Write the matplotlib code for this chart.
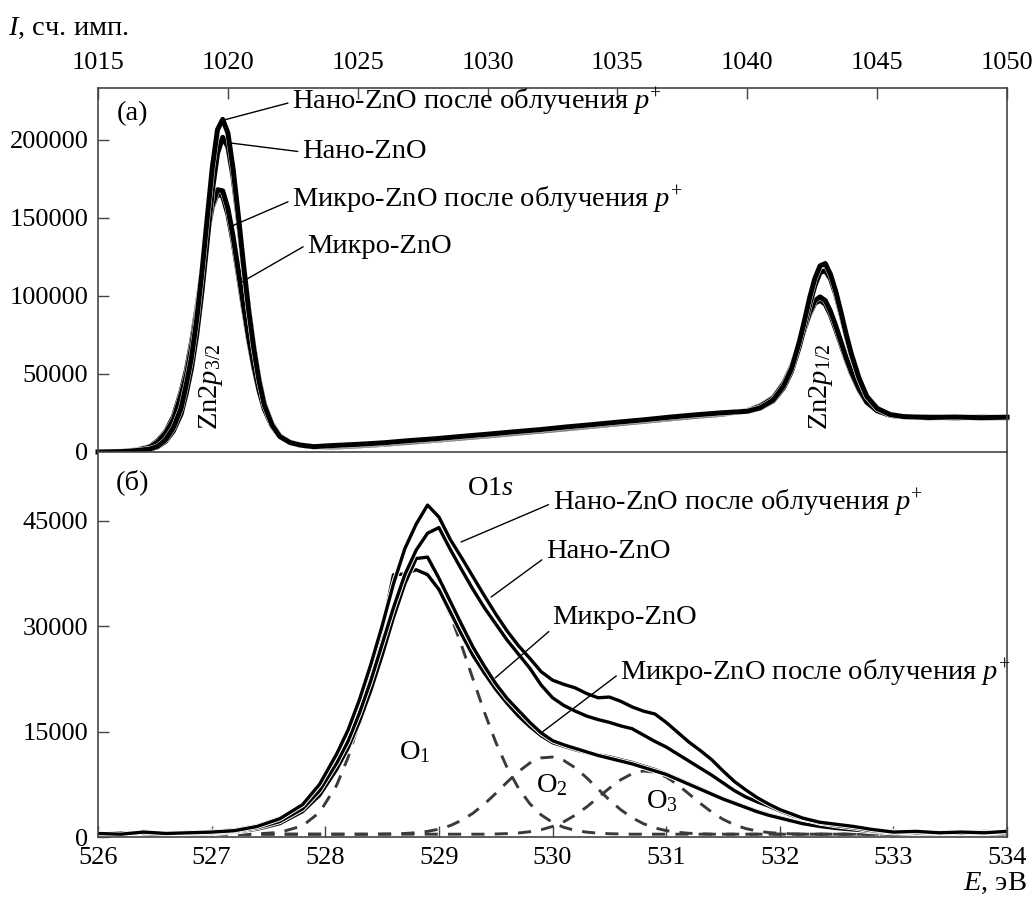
import matplotlib
matplotlib.use("Agg")
import matplotlib.pyplot as plt
import matplotlib.patheffects as pe

plt.rcParams['font.family'] = ['Liberation Serif', 'DejaVu Serif']
plt.rcParams['mathtext.fontset'] = 'custom'
plt.rcParams['mathtext.rm'] = 'Liberation Serif'
plt.rcParams['mathtext.it'] = 'Liberation Serif:italic'

# ---- (a) Zn2p region, energy in eV, counts ----
e_top = [1015, 1015.5, 1016, 1016.5, 1017, 1017.3, 1017.6, 1017.9, 1018.2, 1018.4,
         1018.6, 1018.8, 1019.0, 1019.2, 1019.4, 1019.6, 1019.8, 1020.0, 1020.2, 1020.4,
         1020.6, 1020.8, 1021.0, 1021.2, 1021.4, 1021.7, 1022.0, 1022.4, 1022.8, 1023.3,
         1024, 1025, 1026, 1027, 1028, 1029, 1030, 1031, 1032, 1033,
         1034, 1035, 1036, 1037, 1038, 1039, 1040, 1040.5, 1041.0, 1041.4,
         1041.7, 1042.0, 1042.2, 1042.4, 1042.6, 1042.8, 1043.0, 1043.2, 1043.4, 1043.6,
         1043.8, 1044.0, 1044.3, 1044.6, 1045.0, 1045.5, 1046, 1047, 1048, 1049, 1050]

nano_irr_top = [0, 150, 300, 950, 1900, 3650, 7800, 15500, 28100, 43300,
                60700, 84900, 115100, 149200, 182300, 206600, 213200, 204500, 181500, 151700,
                120200, 91000, 66100, 45550, 30200, 17250, 9900, 6000, 4400, 3400,
                4100, 4900, 5900, 7300, 8500, 10000, 11400, 12900, 14300, 16000,
                17500, 19100, 20600, 22300, 23800, 25100, 26100, 28300, 33300, 42500,
                53400, 70500, 84200, 98900, 111200, 119300, 120800, 113900, 103200, 89900,
                75800, 63100, 47300, 35600, 27900, 23950, 22700, 22100, 22400, 22000, 22300]

nano_top = [100, 200, 400, 900, 1800, 3300, 6800, 13500, 24400, 37700,
            53700, 75200, 102700, 134400, 167300, 191400, 201700, 195600, 176100, 149000,
            119300, 91200, 66900, 46550, 31000, 17850, 10100, 6000, 4300, 3400,
            3700, 4700, 5500, 7000, 8200, 9700, 11000, 12600, 14000, 15600,
            17100, 18700, 20400, 21800, 23600, 24800, 26100, 28150, 32750, 41200,
            51600, 67400, 80300, 94400, 106600, 115100, 116200, 111000, 101200, 88500,
            75000, 62400, 47100, 35600, 27900, 24000, 22700, 22400, 22000, 22300, 22100]

micro_irr_top = [0, 200, 400, 1200, 3150, 6450, 12250, 20600, 36800, 49000,
                 67300, 88800, 113400, 139000, 157900, 168100, 167400, 156100, 138200, 116400,
                 93900, 72800, 54600, 39350, 27500, 16550, 9900, 6000, 4400, 3400,
                 3400, 4200, 5300, 6400, 7900, 9200, 10600, 12100, 13500, 15100,
                 16700, 18200, 19900, 21500, 23000, 24400, 26400, 29260, 34460, 43900,
                 54000, 68300, 79100, 89200, 97000, 99400, 97100, 90200, 81000, 70900,
                 60600, 51500, 40400, 31900, 26400, 23500, 22600, 21900, 22300, 21800, 22000]

micro_top = [0, 100, 300, 1400, 3450, 7300, 13000, 22600, 38800, 52400,
             70300, 91500, 115200, 138900, 157000, 165600, 163800, 152200, 134600, 113600,
             91900, 71500, 54000, 39150, 27700, 16850, 10300, 6100, 4550, 3500,
             3100, 3900, 4900, 6200, 7500, 8900, 10300, 11800, 13300, 14800,
             16400, 18000, 19600, 21200, 22800, 24100, 26500, 29700, 34900, 44300,
             54900, 68900, 79200, 88400, 95300, 97200, 94700, 87900, 78700, 69100,
             59400, 50600, 39700, 31700, 26300, 23500, 22600, 22200, 21800, 22200, 21900]

# ---- (б) O1s region ----
e_o1s = [526.0, 526.2, 526.4, 526.6, 526.8, 527.0, 527.2, 527.4, 527.6, 527.8,
         527.95, 528.1, 528.2, 528.3, 528.4, 528.5, 528.6, 528.7, 528.8, 528.9,
         529.0, 529.1, 529.2, 529.3, 529.4, 529.5, 529.6, 529.7, 529.8, 529.9,
         530.0, 530.1, 530.2, 530.3, 530.4, 530.5, 530.6, 530.7, 530.8, 530.9,
         531.0, 531.1, 531.2, 531.3, 531.4, 531.5, 531.6, 531.7, 531.8, 531.9,
         532.0, 532.1, 532.2, 532.35, 532.5, 532.65, 532.8, 533.0, 533.2, 533.4,
         533.6, 533.8, 534.0]

nano_irr_o1s = [500, 400, 700, 500, 600, 700, 900, 1500, 2600, 4600,
                7500, 11800, 15200, 19500, 24500, 30000, 36000, 41000, 44500, 47200,
                45500, 42300, 39700, 37000, 34300, 31700, 29300, 27200, 25400, 23500,
                22300, 21700, 21200, 20400, 19800, 19900, 19300, 18500, 17900, 17500,
                16300, 14900, 13500, 12300, 11000, 9400, 7900, 6700, 5600, 4700,
                3900, 3300, 2700, 2100, 1800, 1500, 1100, 700, 800, 600,
                700, 600, 800]

nano_o1s = [400, 600, 500, 400, 700, 600, 800, 1300, 2200, 4000,
            6600, 10500, 13600, 17600, 22200, 27400, 32600, 37300, 40800, 43200,
            44000, 40900, 38000, 35200, 32600, 30300, 28000, 26000, 24000, 21600,
            19800, 18700, 17900, 17200, 16700, 16300, 15800, 15400, 14500, 13600,
            12800, 11800, 10800, 9800, 8800, 7700, 6600, 5700, 5000, 4400,
            3700, 3100, 2600, 2000, 1600, 1300, 900, 800, 600, 700,
            500, 700, 600]

micro_o1s = [300, 500, 400, 600, 500, 500, 700, 1100, 1900, 3600,
             5900, 9600, 12600, 16400, 20800, 25800, 31200, 36000, 39600, 39800,
             36800, 33500, 30200, 27000, 24300, 21800, 19700, 18000, 16300, 14800,
             13700, 13100, 12600, 12100, 11600, 11200, 10800, 10400, 9900, 9400,
             8900, 8200, 7500, 6800, 6100, 5400, 4800, 4200, 3600, 3100,
             2700, 2300, 1900, 1500, 1200, 1000, 800, 600, 700, 500,
             600, 500, 700]

micro_irr_o1s = [600, 300, 800, 400, 600, 800, 1000, 1600, 2700, 4200,
                 6900, 11000, 14300, 18500, 23500, 29500, 37300, 37400, 38000, 37300,
                 35200, 32000, 28800, 25800, 23300, 21000, 19000, 17200, 15700, 14400,
                 13400, 12900, 12400, 12000, 11700, 11400, 11000, 10600, 10100, 9600,
                 9000, 8300, 7600, 6900, 6200, 5500, 4900, 4300, 3700, 3200,
                 2800, 2400, 2000, 1600, 1300, 1000, 900, 700, 500, 700,
                 600, 800, 600]

comp_o1 = [400, 400, 400, 400, 400, 400, 400, 440, 660, 1590,
           3510, 7360, 11300, 16360, 22200, 28000, 32800, 36300, 38000, 37500,
           35150, 31600, 27200, 22450, 17760, 13480, 9860, 6940, 4730, 3140,
           2070, 1365, 940, 690, 550, 470, 430] + [400] * 26

comp_o2 = [400] * 15 + [420, 450, 500, 610, 800,
                        1115, 1620, 2370, 3390, 4680, 6200, 7800, 9300, 10520, 11250,
                        11370, 10870, 9840, 8420, 6830, 5270, 3880, 2740, 1890, 1290,
                        906, 670, 530, 460] + [400] * 19

comp_o3 = [400] * 25 + [430, 480, 570, 750, 1040,
                        1500, 2180, 3110, 4270, 5590, 6940, 8140, 9000, 9390, 9220,
                        8540, 7450, 6130, 4780, 3550, 2520, 1740, 1200, 850, 635,
                        520, 450] + [400] * 11

fig = plt.figure(figsize=(10.33, 9.0), dpi=100)
ax1 = fig.add_axes([0.0949, 0.4978, 0.8800, 0.4044])
ax2 = fig.add_axes([0.0949, 0.0700, 0.8800, 0.4278])

spine_col = '#444444'
for ax in (ax1, ax2):
    for s in ax.spines.values():
        s.set_color(spine_col)
        s.set_linewidth(1.2)

# top panel
lw1 = 3.6
for ys in (micro_top, micro_irr_top, nano_top, nano_irr_top):
    ax1.plot(e_top, ys, color='black', lw=lw1, clip_on=False, solid_joinstyle='round',
             path_effects=[pe.Stroke(linewidth=lw1 + 0.6, foreground='white'), pe.Normal()])

ax1.set_xlim(1015, 1050)
ax1.set_ylim(0, 233300)
ax1.xaxis.tick_top()
ax1.set_xticks([1015, 1020, 1025, 1030, 1035, 1040, 1045, 1050])
ax1.set_xticklabels(['1015', '1020', '1025', '1030', '1035', '1040', '1045', '1050'])
ax1.set_yticks([0, 50000, 100000, 150000, 200000])
ax1.set_yticklabels(['0', '50000', '100000', '150000', '200000'])
ax1.tick_params(axis='x', direction='in', length=8, width=1, color=spine_col, labelsize=19, pad=10)
ax1.tick_params(axis='y', direction='in', length=8, width=1, color=spine_col, labelsize=19, pad=7)
ax1.spines['bottom'].set_visible(False)

lab_fs = 20.5
arr = dict(arrowstyle='-', color='black', lw=1.0, shrinkA=1, shrinkB=0, relpos=(0, 0.5))
ax1.annotate('Нано-ZnO после облучения $p^{+}$', xy=(1019.85, 212800), xytext=(1022.47, 224350),
             ha='left', va='center', fontsize=lab_fs, arrowprops=arr, annotation_clip=False)
ax1.annotate('Нано-ZnO', xy=(1020.08, 198100), xytext=(1022.85, 192300),
             ha='left', va='center', fontsize=lab_fs, arrowprops=arr)
ax1.annotate('Микро-ZnO после облучения $p^{+}$', xy=(1020.16, 144900), xytext=(1022.47, 161500),
             ha='left', va='center', fontsize=lab_fs, arrowprops=arr)
ax1.annotate('Микро-ZnO', xy=(1020.47, 108300), xytext=(1023.05, 131400),
             ha='left', va='center', fontsize=lab_fs, arrowprops=dict(arr, relpos=(0, 0.6)))
ax1.text(1019.35, 41700, 'Zn2$p_{3/2}$', rotation=90, ha='center', va='center', fontsize=lab_fs)
ax1.text(1042.84, 41700, 'Zn2$p_{1/2}$', rotation=90, ha='center', va='center', fontsize=lab_fs)
ax1.text(0.0374, 0.931, '(а)', transform=ax1.transAxes, ha='center', va='center', fontsize=lab_fs)

# bottom panel
lw2 = 2.4
for ys in (comp_o1, comp_o2, comp_o3):
    ax2.plot(e_o1s, ys, color='#3a3a3a', lw=2.1, ls=(0, (4.5, 3.5)))
for ys in (micro_irr_o1s, micro_o1s, nano_o1s, nano_irr_o1s):
    ax2.plot(e_o1s, ys, color='black', lw=lw2, solid_joinstyle='round',
             path_effects=[pe.Stroke(linewidth=lw2 + 1.4, foreground='white'), pe.Normal()])

ax2.set_xlim(526, 534)
ax2.set_ylim(0, 54750)
ax2.set_xticks([526, 527, 528, 529, 530, 531, 532, 533, 534])
ax2.set_xticklabels(['526', '527', '528', '529', '530', '531', '532', '533', '534'])
ax2.set_yticks([0, 15000, 30000, 45000])
ax2.set_yticklabels(['0', '15000', '30000', '45000'])
ax2.tick_params(axis='x', direction='in', length=8, width=1, color=spine_col, labelsize=19, pad=7)
ax2.tick_params(axis='y', direction='in', length=8, width=1, color=spine_col, labelsize=19, pad=7)

ax2.annotate('Нано-ZnO после облучения $p^{+}$', xy=(529.195, 41950), xytext=(530.0, 47500),
             ha='left', va='center', fontsize=lab_fs, arrowprops=arr)
ax2.annotate('Нано-ZnO', xy=(529.46, 34130), xytext=(529.94, 40530),
             ha='left', va='center', fontsize=lab_fs, arrowprops=dict(arr, relpos=(0, 0.3)))
ax2.annotate('Микро-ZnO', xy=(529.495, 22610), xytext=(530.0, 31280),
             ha='left', va='center', fontsize=lab_fs, arrowprops=dict(arr, relpos=(0, 0.05)))
ax2.annotate('Микро-ZnO после облучения $p^{+}$', xy=(529.91, 14930), xytext=(530.595, 23320),
             ha='left', va='center', fontsize=lab_fs, arrowprops=arr)
ax2.text(529.45, 49490, 'O1$s$', ha='center', va='center', fontsize=lab_fs)
ax2.text(528.79, 12090, 'O$_1$', ha='center', va='center', fontsize=lab_fs)
ax2.text(529.996, 7390, 'O$_2$', ha='center', va='center', fontsize=lab_fs)
ax2.text(530.965, 5120, 'O$_3$', ha='center', va='center', fontsize=lab_fs)
ax2.text(0.0374, 0.922, '(б)', transform=ax2.transAxes, ha='center', va='center', fontsize=lab_fs)

fig.text(8 / 1033, 1 - 28 / 900, '$I$, сч. имп.', ha='left', va='center', fontsize=lab_fs)
fig.text(1027 / 1033, 1 - 883 / 900, '$E$, эВ', ha='right', va='center', fontsize=lab_fs)

fig.savefig('out.png', dpi=100)
